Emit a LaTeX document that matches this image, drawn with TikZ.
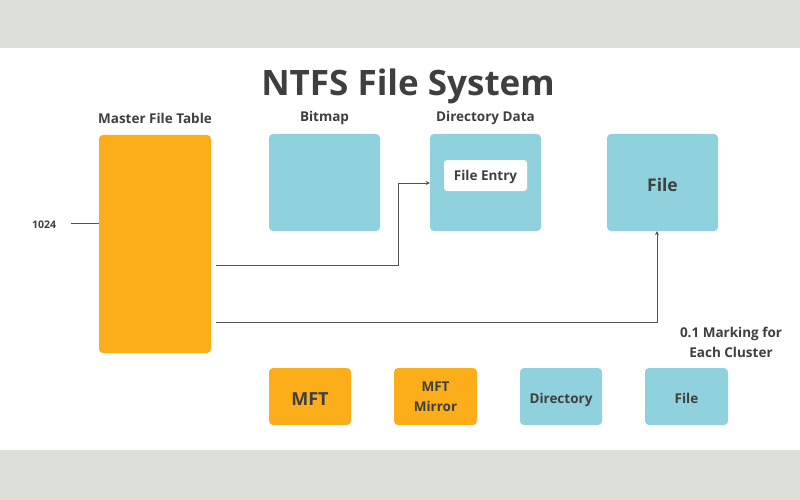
\documentclass[tikz,border=0pt]{standalone}
\usepackage{fontspec}
\setmainfont{Open Sans}
\usetikzlibrary{arrows.meta}
\definecolor{band}{HTML}{DCDFD8}
\definecolor{orng}{HTML}{FBAD1A}
\definecolor{blu}{HTML}{8FD1DD}
\definecolor{ink}{HTML}{3F3F3F}
\begin{document}
\begin{tikzpicture}[x=1pt,y=-1pt,
  box/.style={rounded corners=4pt,inner sep=0pt,text=ink,font=\bfseries\fontsize{13.5}{15}\selectfont,align=center},
  obox/.style={box,fill=orng},
  bbox/.style={box,fill=blu},
  capc/.style={text height={0.72em+#1},text depth=0pt},
  capc/.default=5pt,
  lbl/.style={text=ink,font=\bfseries\fontsize{13.5}{15}\selectfont,align=center},
  conn/.style={draw=ink!90,line width=0.9pt},
  arr/.style={conn,-{Stealth[length=4pt,width=4pt]}}]
\useasboundingbox (0,0) rectangle (800,500);
\fill[white] (0,0) rectangle (800,500);
\fill[band] (0,0) rectangle (800,48);
\fill[band] (0,450) rectangle (800,500);
\node[text=ink,font=\bfseries\fontsize{35}{40}\selectfont] (title) at (408,86) {NTFS File System};
% top row boxes
\node[obox,minimum width=112pt,minimum height=218pt] (mft) at (155,244) {};
\node[bbox,minimum width=111pt,minimum height=97pt] (bitmap) at (324.5,182.5) {};
\node[bbox,minimum width=111pt,minimum height=97pt] (dir) at (485.5,182.5) {};
\node[box,capc=2pt,fill=white,minimum width=83pt,minimum height=31pt,rounded corners=3pt] (entry) at (485.5,175.5) {File Entry};
\node[bbox,capc=11pt,minimum width=111pt,minimum height=97pt,font=\bfseries\fontsize{17.5}{20}\selectfont] (file) at (662.5,182.5) {File};
% labels
\node[lbl] (lmft) at (155,118) {Master File Table};
\node[lbl] (lbit) at (324.5,118) {Bitmap};
\node[lbl] (ldir) at (485.5,118) {Directory Data};
\node[text=ink,font=\bfseries\fontsize{10.5}{12}\selectfont] (n1024) at (44,225) {1024};
\node[lbl,font=\bfseries\fontsize{13.5}{20}\selectfont] (mark) at (731,342) {0.1 Marking for\\Each Cluster};
% connectors
\coordinate (s1) at (216,265.5);
\coordinate (s2) at (216,322);
\draw[conn] (71,223) -- (mft.west |- 0,223);
\draw[arr] (s1) -- (398,265.5) |- (dir.west |- 0,183);
\draw[arr] (s2) -| (file.south -| 657,0);
% bottom row
\node[obox,capc=11pt,minimum width=82pt,minimum height=57pt,font=\bfseries\fontsize{18}{20}\selectfont] (b1) at (310,396.5) {MFT};
\node[obox,minimum width=83pt,minimum height=57pt,font=\bfseries\fontsize{13.5}{20}\selectfont] (b2) at (435.5,396.5) {MFT\\Mirror};
\node[bbox,capc=7pt,minimum width=82pt,minimum height=57pt] (b3) at (561,396.5) {Directory};
\node[bbox,capc=6pt,minimum width=83pt,minimum height=57pt] (b4) at (686.5,396.5) {File};
\end{tikzpicture}
\end{document}
